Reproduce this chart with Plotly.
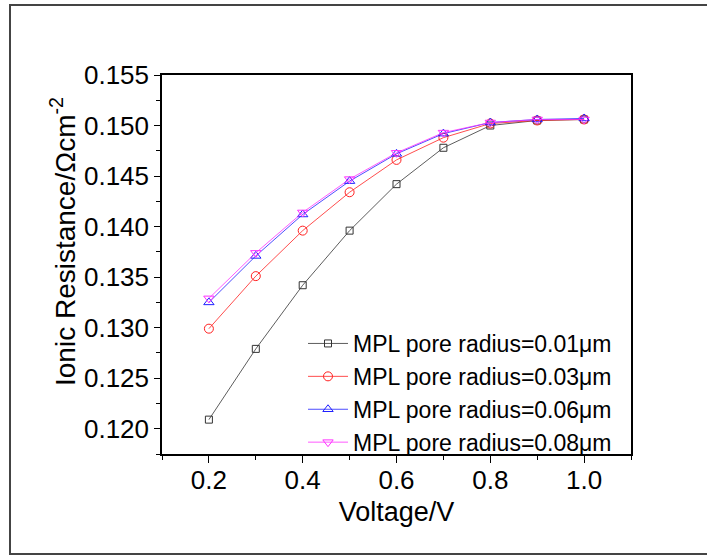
import plotly.graph_objects as go

voltage = [0.2, 0.3, 0.4, 0.5, 0.6, 0.7, 0.8, 0.9, 1.0]
r_001 = [0.1209, 0.1279, 0.1342, 0.1396, 0.1442, 0.1478, 0.1500, 0.1505, 0.1506]
r_003 = [0.1299, 0.1351, 0.1396, 0.1434, 0.1466, 0.1488, 0.1502, 0.1505, 0.1506]
r_006 = [0.1325, 0.1371, 0.1412, 0.1445, 0.1472, 0.1492, 0.1503, 0.1506, 0.1507]
r_008 = [0.1329, 0.1374, 0.1414, 0.1447, 0.1473, 0.1493, 0.1503, 0.1506, 0.1506]
names = ["MPL pore radius=0.01μm", "MPL pore radius=0.03μm",
         "MPL pore radius=0.06μm", "MPL pore radius=0.08μm"]
series = [r_001, r_003, r_006, r_008]
colors = ["#333333", "#FF2020", "#2020FF", "#FF30FF"]
symbols = ["square-open", "circle-open", "triangle-up-open", "triangle-down-open"]
sizes = [7, 9, 9, 9]

FONT = "Arial, Liberation Sans, sans-serif"

fig = go.Figure()
for nm, ys, c, s, sz in zip(names, series, colors, symbols, sizes):
    fig.add_trace(go.Scatter(
        x=voltage, y=ys, name=nm, mode="lines+markers",
        line=dict(color=c, width=0.8),
        marker=dict(symbol=s, size=sz, color=c, line=dict(width=1, color=c)),
    ))

W, H = 707, 555
L, R, T, B = 162, 76, 75, 101
pw, ph = W - L - R, H - T - B

def px(x):
    return (x - L) / pw

def py(y):
    return (H - B - y) / ph

fig.update_layout(
    width=W, height=H,
    margin=dict(l=L, r=R, t=T, b=B, pad=0),
    paper_bgcolor="white", plot_bgcolor="white",
    font=dict(family=FONT, color="black"),
    showlegend=True,
    legend=dict(
        x=px(303), y=py(322), xanchor="left", yanchor="top",
        bgcolor="rgba(0,0,0,0)", borderwidth=0,
        font=dict(family=FONT, size=23, color="black"),
        tracegroupgap=0, itemwidth=40,
    ),
    xaxis=dict(
        range=[0.1, 1.1], tickvals=[0.2, 0.4, 0.6, 0.8, 1.0],
        ticktext=["0.2", "0.4", "0.6", "0.8", "1.0"],
        ticks="outside", ticklen=7, tickwidth=1, tickcolor="black",
        ticklabelstandoff=-5,
        minor=dict(dtick=0.1, tick0=0.1, ticks="outside", ticklen=4, tickcolor="black"),
        showline=True, linecolor="black", linewidth=1.5, mirror=True,
        showgrid=False, zeroline=False,
        tickfont=dict(family=FONT, size=26),
        title=dict(text="Voltage/V", font=dict(family=FONT, size=27), standoff=8),
    ),
    yaxis=dict(
        range=[0.1175, 0.155], dtick=0.005, tick0=0.12,
        tickformat=".3f",
        ticks="outside", ticklen=6, tickwidth=1, tickcolor="black",
        minor=dict(dtick=0.0025, tick0=0.1175, ticks="outside", ticklen=4, tickcolor="black"),
        showline=True, linecolor="black", linewidth=1.5, mirror=True,
        showgrid=False, zeroline=False,
        tickfont=dict(family=FONT, size=26),
    ),
    annotations=[dict(
        text="Ionic Resistance/Ωcm<sup>-2</sup>", textangle=-90,
        xref="paper", yref="paper", x=px(63), y=py(242),
        xanchor="center", yanchor="middle", showarrow=False,
        font=dict(family=FONT, size=28, color="black"),
    )],
    shapes=[dict(
        type="rect", xref="paper", yref="paper",
        x0=px(10), x1=px(740), y0=py(554), y1=py(5),
        line=dict(color="#444444", width=2), fillcolor="rgba(0,0,0,0)", layer="below",
    )],
)

fig.write_html("out.html")
